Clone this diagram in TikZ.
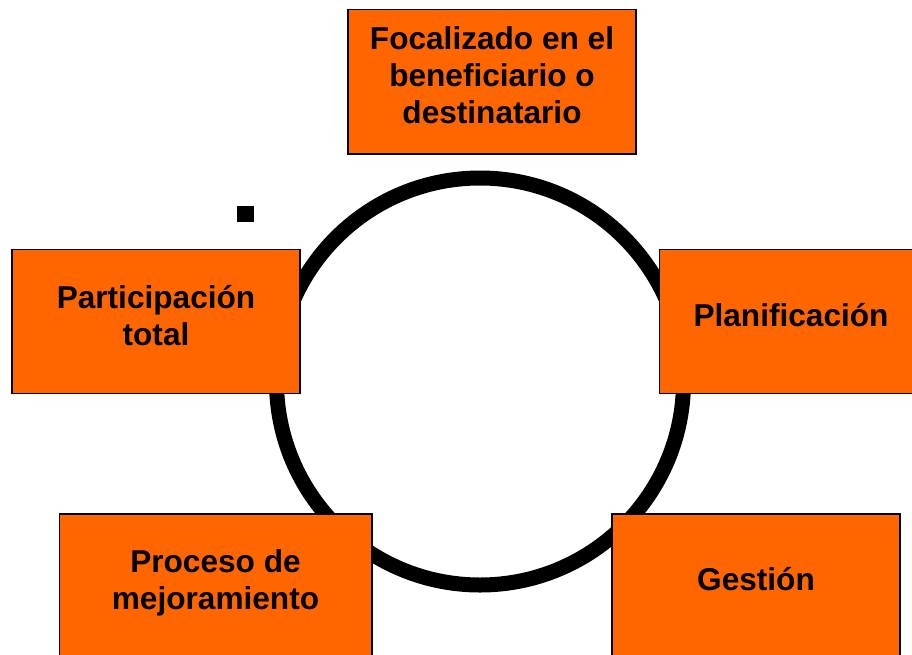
\documentclass[tikz,border=0pt]{standalone}
\usepackage{fontspec}
\setmainfont{Liberation Sans}
\definecolor{boxorange}{HTML}{FF6600}
\begin{document}
\begin{tikzpicture}[x=1pt,y=-1pt,
  box/.style={draw=black,line width=1.5pt,fill=boxorange,inner sep=0pt,outer sep=0pt},
  lbl/.style={font=\fontsize{31.6}{37}\selectfont\bfseries,align=center,inner sep=0pt,text=black}]
\useasboundingbox (0,0) rectangle (912,654);
\clip (0,0) rectangle (912,654);
\node[draw=black,line width=15pt,circle,minimum size=407pt,inner sep=0pt] (ring) at (480,381.5) {};
\node[box,minimum width=288pt,minimum height=144.5pt] (topbox) at (492,81.75) {};
\node[box,minimum width=288pt,minimum height=144pt] (leftbox) at (156,321.5) {};
\node[box,minimum width=263.5pt,minimum height=144pt] (rightbox) at (791.25,321.5) {};
\node[box,minimum width=312.5pt,minimum height=144pt] (blbox) at (215.75,586) {};
\node[box,minimum width=288pt,minimum height=144pt] (brbox) at (756,586) {};
\node[fill=black,minimum width=17pt,minimum height=16pt,inner sep=0pt] (dot) at (245.5,214) {};
\node[lbl] (toptext) at (492,75.5) {Focalizado en el\\beneficiario o\\destinatario};
\node[lbl] (lefttext) at (156,315.5) {Participación\\total};
\node[lbl] (righttext) at (791,315.5) {Planificación};
\node[lbl] (bltext) at (215.5,582.5) {Proceso de\\mejoramiento};
\node[lbl] (brtext) at (756,579) {Gestión};
\end{tikzpicture}
\end{document}
